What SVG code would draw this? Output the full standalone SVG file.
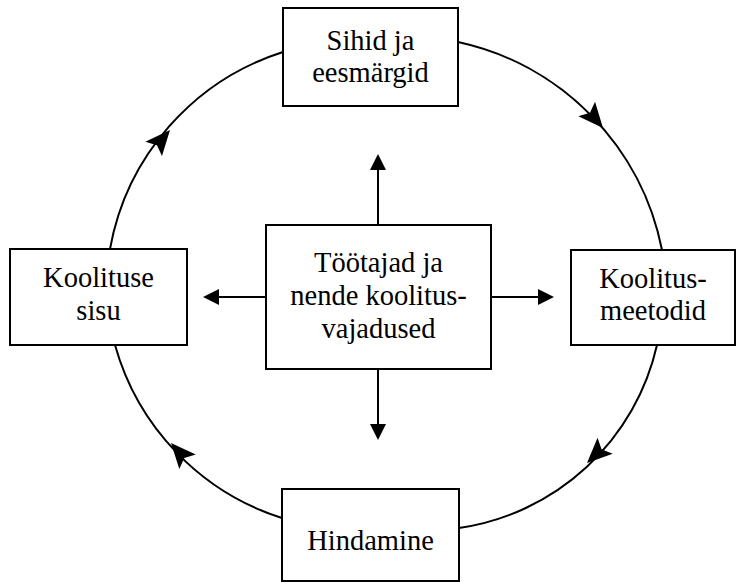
<svg xmlns="http://www.w3.org/2000/svg" width="737" height="584" viewBox="0 0 737 584">
<defs>
<style>
.box{fill:#fff;stroke:#000;stroke-width:2}
.arc{fill:none;stroke:#000;stroke-width:2}
.ln{fill:none;stroke:#000;stroke-width:2}
text{font-family:'Liberation Serif','Times New Roman',serif;font-size:28.5px;fill:#000;text-anchor:middle}
</style>
<path id="ah" d="M0,0 L-25,-11 L-20,0 L-25,11 Z" fill="#000"/>
<path id="sh" d="M0,0 L-16,-8 L-16,8 Z" fill="#000"/>
</defs>
<g id="connectors">
<path class="arc" d="M458,42 A265,265 0 0 1 662,250"/>
<path class="arc" d="M110,249 A254,254 0 0 1 283,52"/>
<path class="arc" d="M115,345 A253,253 0 0 0 282,518"/>
<path class="arc" d="M657,345 A238,238 0 0 1 459,528"/>
<use href="#ah" transform="translate(603,128) rotate(49.3)"/>
<use href="#ah" transform="translate(170,130) rotate(-49.2)"/>
<use href="#ah" transform="translate(587,463) rotate(136.5)"/>
<use href="#ah" transform="translate(171,443) rotate(-131.5)"/>
<line class="ln" x1="378" y1="225" x2="378" y2="168"/>
<use href="#sh" transform="translate(378,154) rotate(-90)"/>
<line class="ln" x1="378" y1="369" x2="378" y2="426"/>
<use href="#sh" transform="translate(378,440) rotate(90)"/>
<line class="ln" x1="266" y1="297" x2="216" y2="297"/>
<use href="#sh" transform="translate(203,297) rotate(180)"/>
<line class="ln" x1="491" y1="297" x2="541" y2="297"/>
<use href="#sh" transform="translate(554,297)"/>
</g>
<g id="node-sihid">
<rect class="box" x="283" y="8" width="175" height="98"/>
<text x="370.5" y="50">Sihid ja</text>
<text x="370.5" y="82">eesmärgid</text>
</g>
<g id="node-sisu">
<rect class="box" x="10" y="249" width="177" height="96"/>
<text x="98.5" y="287">Koolituse</text>
<text x="98.5" y="320">sisu</text>
</g>
<g id="node-meetodid">
<rect class="box" x="571" y="250" width="164" height="95"/>
<text x="653" y="288">Koolitus-</text>
<text x="653" y="320">meetodid</text>
</g>
<g id="node-tootajad">
<rect class="box" x="266" y="225" width="225" height="144"/>
<text x="378.5" y="272">Töötajad ja</text>
<text x="378.5" y="305">nende koolitus-</text>
<text x="378.5" y="338">vajadused</text>
</g>
<g id="node-hindamine">
<rect class="box" x="282" y="489" width="177" height="92"/>
<text x="370.5" y="550">Hindamine</text>
</g>
</svg>
